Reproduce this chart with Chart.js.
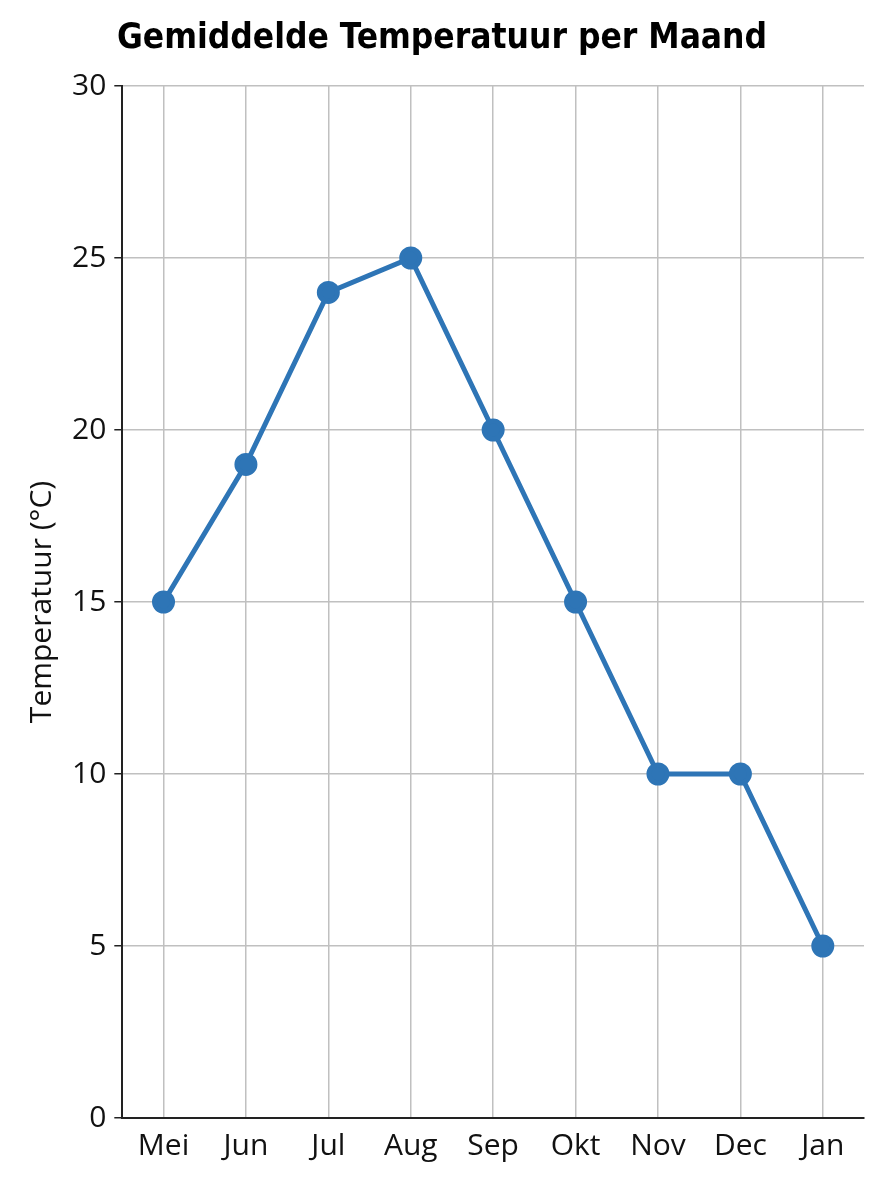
<!DOCTYPE html>
<html>
<head>
<meta charset="utf-8">
<script src="https://cdn.jsdelivr.net/npm/chart.js@4"></script>
<style>
  html, body { margin: 0; padding: 0; background: #fff; }
  #wrap { width: 896px; height: 1200px; }
</style>
</head>
<body>
<div id="wrap"><canvas id="tempChart"></canvas></div>
<script>
const months = ['Mei', 'Jun', 'Jul', 'Aug', 'Sep', 'Okt', 'Nov', 'Dec', 'Jan'];
const temperatures = [15, 19, 24, 25, 20, 15, 10, 10, 5];
const yTicks = [0, 5, 10, 15, 20, 25, 30];

const lineColor = '#2e75b6';
const tickFont = { family: 'Open Sans, Noto Sans, sans-serif', size: 30 };

new Chart(document.getElementById('tempChart'), {
  type: 'line',
  data: {
    labels: months,
    datasets: [{
      label: 'Temperatuur',
      data: temperatures,
      borderColor: lineColor,
      backgroundColor: lineColor,
      borderWidth: 5,
      pointRadius: 9,
      pointHoverRadius: 9,
      tension: 0
    }]
  },
  options: {
    responsive: true,
    maintainAspectRatio: false,
    animation: false,
    layout: { padding: { left: 20, right: 32, top: 18, bottom: 26 } },
    plugins: {
      legend: { display: false },
      tooltip: { enabled: false },
      title: {
        display: true,
        text: 'Gemiddelde Temperatuur per Maand',
        color: '#000',
        font: { family: 'Liberation Sans Narrow, DejaVu Sans Condensed, sans-serif', size: 35, weight: 'bold' },
        padding: { top: 0, bottom: 26 }
      }
    },
    scales: {
      x: {
        offset: true,
        grid: { color: '#c0c0c0', lineWidth: 1.5, offset: false, drawTicks: false },
        border: { color: '#222', width: 2 },
        ticks: { color: '#111', font: tickFont, padding: 10 }
      },
      y: {
        min: 0,
        max: 30,
        afterBuildTicks: axis => { axis.ticks = yTicks.map(v => ({ value: v })); },
        grid: { color: '#c0c0c0', lineWidth: 1.5, drawTicks: true, tickLength: 8, tickColor: '#222' },
        border: { color: '#222', width: 2 },
        ticks: { color: '#111', font: tickFont, padding: 8 },
        title: { display: true, text: 'Temperatuur (°C)', color: '#111', font: tickFont, padding: 4 }
      }
    }
  }
});
</script>
</body>
</html>
